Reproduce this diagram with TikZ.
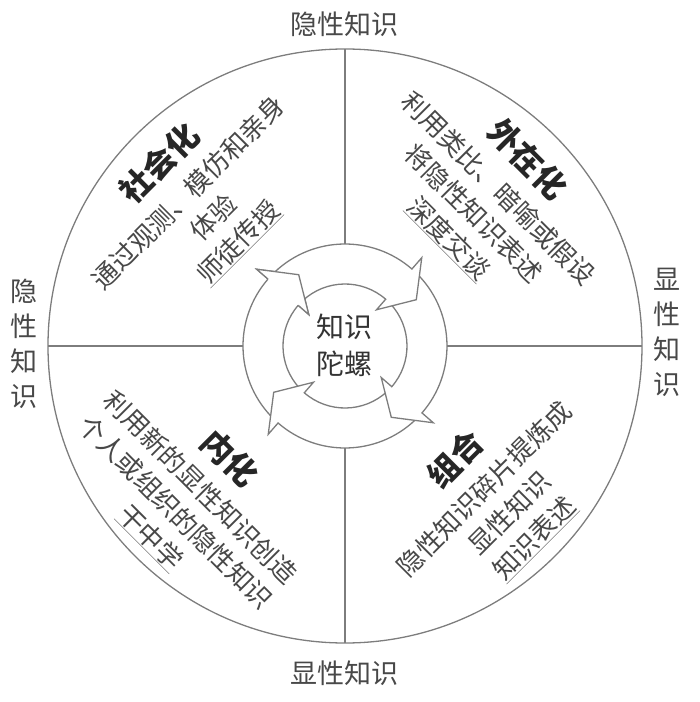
\documentclass[tikz,border=0pt]{standalone}
\usepackage{fontspec}
\setmainfont{Noto Sans CJK SC}
\definecolor{linegray}{RGB}{125,125,125}
\definecolor{textgray}{RGB}{72,72,72}
\newcommand\quadtitle[1]{{\fontsize{32}{36}\selectfont\bfseries\color{black!85}#1}}
\begin{document}
\begin{tikzpicture}[x=1pt,y=1pt,
    frame/.style={draw=linegray,line width=1.3pt},
    ring/.style={draw=linegray,line width=1.3pt,fill=white},
    label/.style={text=textgray,font=\fontsize{27}{35}\selectfont,align=center,inner sep=0pt},
    quad/.style={text=textgray,font=\fontsize{26}{35}\selectfont,align=center,inner sep=0pt}]
  \useasboundingbox (-345,-356) rectangle (355,346);

  \draw[frame] (0,0) circle[radius=297pt];
  \draw[frame] (0,102) -- (0,297);
  \draw[frame] (0,-102) -- (0,-297);
  \draw[frame] (-102,0) -- (-297,0);
  \draw[frame] (102,0) -- (297,0);

  % 知识陀螺の矢印
  \foreach \e [evaluate=\e as \s using \e+84, evaluate=\e as \t using \e-16] in {-221,-131,-41,49} {
    \draw[ring] (\s:102) arc[start angle=\s,end angle=\e,radius=102pt] -- (\e:117) -- (\t:85)
      -- (\e:48) -- (\e:62) arc[start angle=\e,end angle=\s,radius=62pt] -- cycle;
  }
  \draw[ring] (139:102) -- (139:117) -- (123:85) -- (139:48) -- (139:62);

  \node[label,text=black!80,font=\fontsize{28}{37}\selectfont] (gyro) at (0,1) {知识\\陀螺};

  \node[quad,rotate=45] (social) at (-147,144)
    {\quadtitle{社会化}\\[4pt]通过观测、模仿和亲身\\体验\\\underline{师徒传授}};
  \node[quad,rotate=-45] (external) at (144,148)
    {\quadtitle{外在化}\\[4pt]利用类比、暗喻或假设\\将隐性知识表述\\\underline{深度交谈}};
  \node[quad,rotate=-45] (internal) at (-154,-151)
    {\quadtitle{内化}\\[4pt]利用新的显性知识创造\\个人或组织的隐性知识\\\underline{干中学}};
  \node[quad,rotate=45] (combine) at (149,-152)
    {\quadtitle{组合}\\[4pt]隐性知识碎片提炼成\\显性知识\\\underline{知识表述}};

  % 外側のラベル
  \node[label] (tacittop) at (0,322) {隐性知识};
  \node[label] (explicitbot) at (0,-327) {显性知识};
  \node[label] (tacitleft) at (-321,2) {隐\\性\\知\\识};
  \node[label] (explicitright) at (322,14) {显\\性\\知\\识};
\end{tikzpicture}
\end{document}
